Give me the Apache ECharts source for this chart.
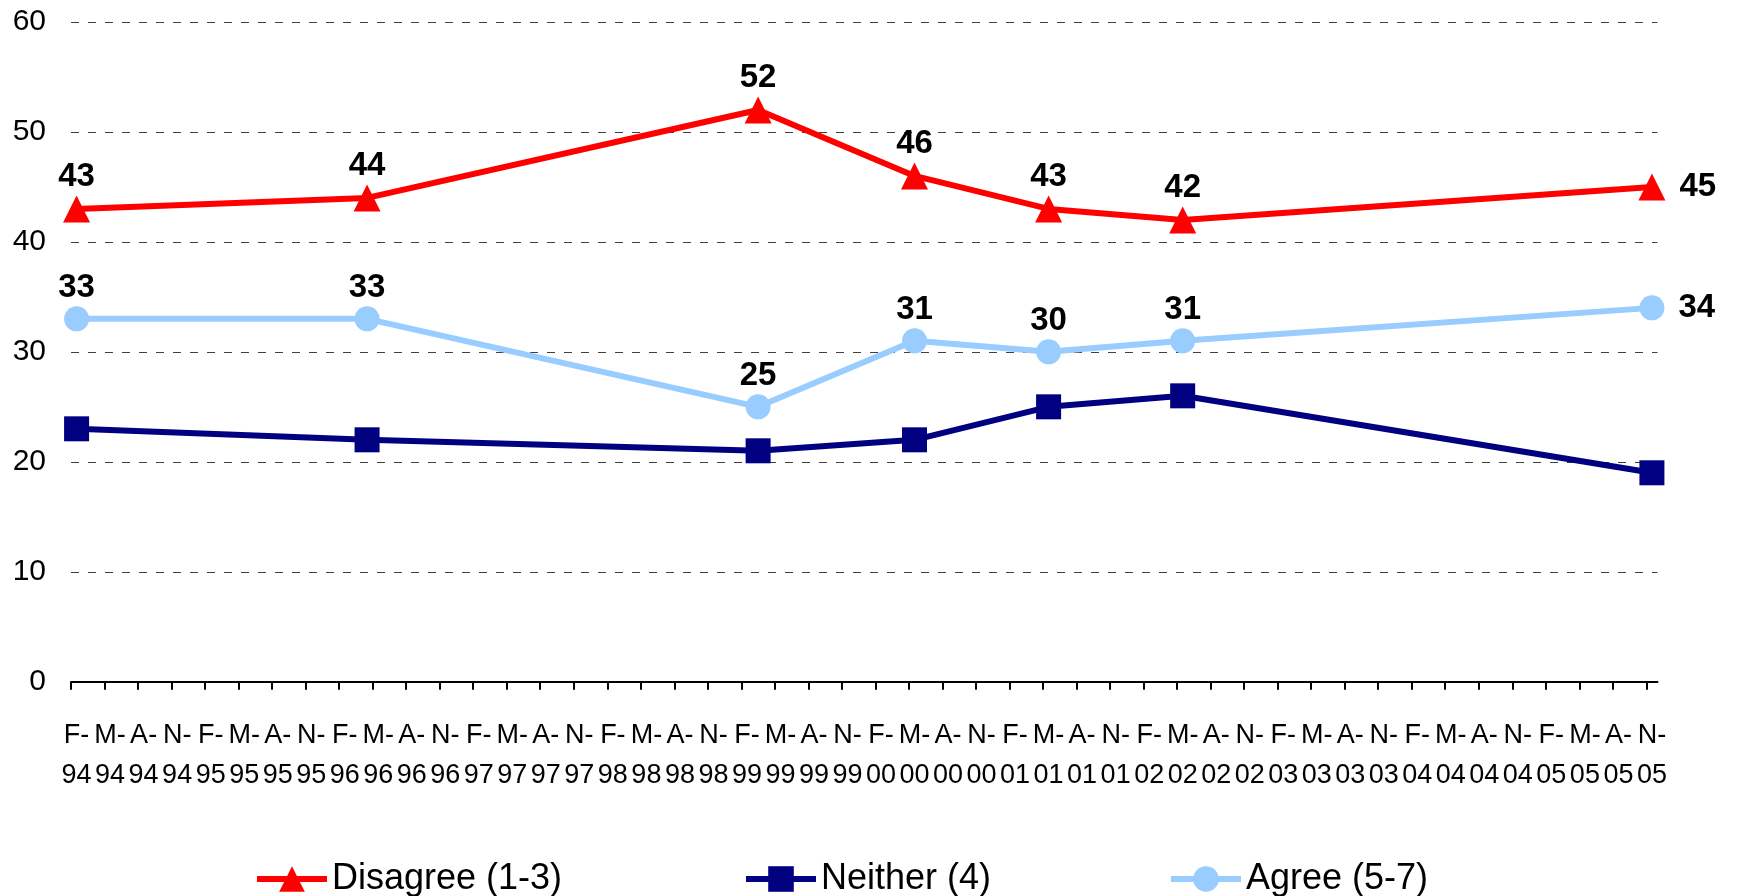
<!DOCTYPE html>
<html>
<head>
<meta charset="utf-8">
<script src="https://cdn.jsdelivr.net/npm/echarts@6/dist/echarts.min.js"></script>
<style>
html,body{margin:0;padding:0;background:#fff;}
#chart{width:1739px;height:896px;}
</style>
</head>
<body>
<div id="chart"></div>
<script>
// Survey dates (year-month) of each wave
const surveyDates = ['1994-02', '1996-04', '1999-03', '2000-05', '2001-05', '2002-05', '2005-11'];
const disagree = [43, 44, 52, 46, 43, 42, 45];
const neither  = [23, 22, 21, 22, 25, 26, 19];
const agree    = [33, 33, 25, 31, 30, 31, 34];

const tickLabels = [
  'F-94','M-94','A-94','N-94','F-95','M-95','A-95','N-95',
  'F-96','M-96','A-96','N-96','F-97','M-97','A-97','N-97',
  'F-98','M-98','A-98','N-98','F-99','M-99','A-99','N-99',
  'F-00','M-00','A-00','N-00','F-01','M-01','A-01','N-01',
  'F-02','M-02','A-02','N-02','F-03','M-03','A-03','N-03',
  'F-04','M-04','A-04','N-04','F-05','M-05','A-05','N-05'
];
const yTicks = [0, 10, 20, 30, 40, 50, 60];

// months since Feb 1994
function monthIndex(s) {
  const p = s.split('-');
  return (parseInt(p[0], 10) - 1994) * 12 + (parseInt(p[1], 10) - 2);
}
const xs = surveyDates.map(monthIndex);
const labelValues = tickLabels.map((t, i) => i * 3);
const tickValues = tickLabels.map((t, i) => i * 3 - 0.5);

const labelFont = {
  color: '#000', fontFamily: 'Liberation Sans, Arial, sans-serif',
  fontWeight: 'bold', fontSize: 33
};

function buildData(vals, withLabels) {
  return vals.map((v, i) => {
    const item = { value: [xs[i], v] };
    if (withLabels && i === vals.length - 1) {
      item.label = { position: 'right', distance: 14 };
    }
    return item;
  });
}

const legendText = { fontSize: 36, color: '#000', fontFamily: 'Liberation Sans, Arial, sans-serif' };

const chart = echarts.init(document.getElementById('chart'), null, { renderer: 'canvas' });
const option = {
  animation: false,
  backgroundColor: '#fff',
  grid: {
    left: 71, right: 81.5, top: 22, bottom: 214.3,
    containLabel: false, outerBoundsMode: 'none'
  },
  xAxis: {
    type: 'value',
    min: -0.5, max: 141.5,
    axisLine: { show: true, lineStyle: { color: '#000', width: 2 } },
    axisTick: {
      show: true, inside: false, length: 8,
      customValues: tickValues,
      lineStyle: { color: '#000', width: 2 }
    },
    axisLabel: {
      show: true,
      customValues: labelValues,
      margin: 34,
      lineHeight: 40,
      fontSize: 27,
      fontFamily: 'Liberation Sans, Arial, sans-serif',
      color: '#000',
      formatter: function (v) {
        const t = tickLabels[Math.round(v / 3)] || '';
        const idx = t.indexOf('-');
        return t.slice(0, idx + 1) + '\n' + t.slice(idx + 1);
      }
    },
    splitLine: { show: false }
  },
  yAxis: {
    type: 'value',
    min: yTicks[0], max: yTicks[yTicks.length - 1], interval: 10,
    axisLine: { show: false },
    axisTick: { show: false },
    axisLabel: {
      margin: 25, fontSize: 30, color: '#000',
      fontFamily: 'Liberation Sans, Arial, sans-serif'
    },
    splitLine: { show: true, lineStyle: { color: '#404040', width: 1, type: [8, 9] } }
  },
  legend: [
    {
      data: ['Disagree (1-3)'], left: 254, top: 861, padding: 0,
      itemWidth: 70, itemHeight: 32, lineStyle: { width: 6 },
      textStyle: legendText
    },
    {
      data: ['Neither (4)'], left: 743, top: 861, padding: 0,
      itemWidth: 70, itemHeight: 32, lineStyle: { width: 6 },
      textStyle: legendText
    },
    {
      data: ['Agree (5-7)'], left: 1168, top: 861, padding: 0,
      itemWidth: 70, itemHeight: 32, lineStyle: { width: 6 },
      textStyle: legendText
    }
  ],
  series: [
    {
      name: 'Disagree (1-3)', type: 'line',
      data: buildData(disagree, true),
      symbol: 'triangle', symbolSize: 27,
      lineStyle: { color: '#FF0000', width: 6 },
      itemStyle: { color: '#FF0000' },
      label: Object.assign({ show: true, position: 'top', distance: 2 }, labelFont, {
        formatter: p => p.value[1]
      }),
      z: 4
    },
    {
      name: 'Neither (4)', type: 'line',
      data: buildData(neither, false),
      symbol: 'rect', symbolSize: 25,
      lineStyle: { color: '#000080', width: 6 },
      itemStyle: { color: '#000080' },
      label: { show: false },
      z: 2
    },
    {
      name: 'Agree (5-7)', type: 'line',
      data: buildData(agree, true),
      symbol: 'circle', symbolSize: 25,
      lineStyle: { color: '#99CCFF', width: 6 },
      itemStyle: { color: '#99CCFF' },
      label: Object.assign({ show: true, position: 'top', distance: 2 }, labelFont, {
        formatter: p => p.value[1]
      }),
      z: 3
    }
  ]
};
chart.setOption(option);
</script>
</body>
</html>
